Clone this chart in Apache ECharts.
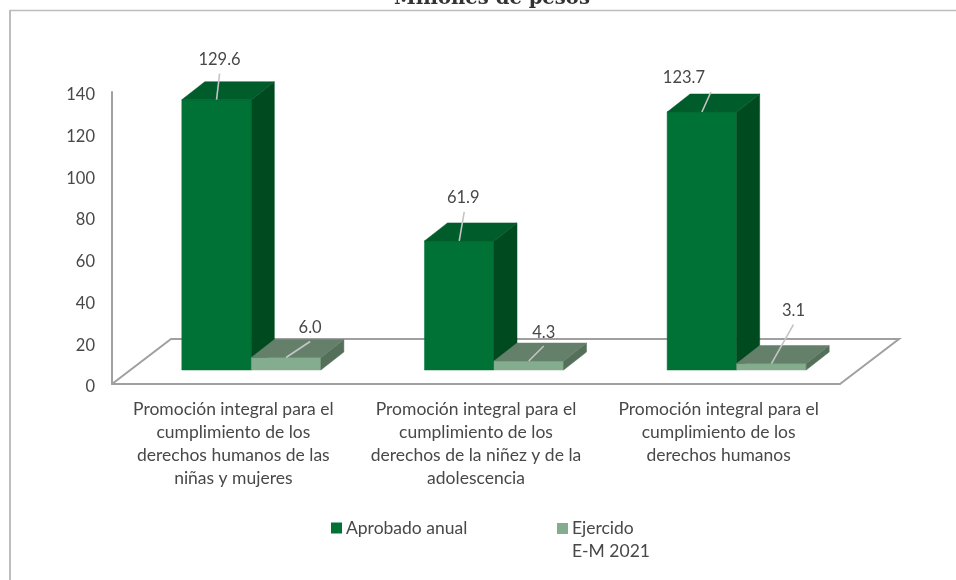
<!DOCTYPE html>
<html>
<head>
<meta charset="utf-8">
<style>html,body{margin:0;padding:0;background:#fff}#c{width:956px;height:580px}</style>
<script src="https://cdn.jsdelivr.net/npm/echarts@6/dist/echarts.min.js"></script>
</head>
<body>
<div id="c"></div>
<script>
const categories = [
  'Promoción integral para el\ncumplimiento de los\nderechos humanos de las\nniñas y mujeres',
  'Promoción integral para el\ncumplimiento de los\nderechos de la niñez y de la\nadolescencia',
  'Promoción integral para el\ncumplimiento de los\nderechos humanos'
];
const aprobado = [129.6, 61.9, 123.7];
const ejercido = [6.0, 4.3, 3.1];
const yTicks = [0, 20, 40, 60, 80, 100, 120, 140];
const titleText = 'Millones de pesos';
const nameAprobado = 'Aprobado anual';
const nameEjercido = 'Ejercido\nE-M 2021';

// Oblique projection of the 3D scene (pixels)
const BASE_X = 18, BASE_Y = -14;      // bars stand this far behind the front floor edge
const DEPTH_X = 23, DEPTH_Y = -18;    // depth of each bar
const FLOOR_X = 59, FLOOR_Y = -45;    // depth of the floor
const BAR_RATIO = 0.2865;
const FONT = 'Lato, "Open Sans", sans-serif';
const TXT = '#484848', LEADER = '#c4c4c4', AXIS = '#a0a0a0';

// Leader-line end and label centre, relative to the top-front middle of the bar
const styleA = {front:'#007236', side:'#004a20', top:'#005c2b',
  end:[[3,-26],[5,-29],[9,-20]], label:[[3,-40],[4,-43],[-18,-34]]};
const styleE = {front:'#84ac8e', side:'#55705a', top:'#64806a',
  end:[[24,-16],[15,-15],[22,-39]], label:[[24,-30],[15,-28],[22,-53]]};

function barItem(style, side) {
  return function (params, api) {
    const i = api.value(0);
    const val = api.value(1);
    const band = api.size([1, 0])[0];
    const w = band * BAR_RATIO;
    const c0 = api.coord([i, 0]);
    const c1 = api.coord([i, val]);
    const xL = c0[0] + BASE_X + (side === 0 ? -w : 0);
    const xR = xL + w;
    const yB = c0[1] + BASE_Y;
    const yT = c1[1] + BASE_Y;
    const poly = (pts, fill) => ({type:'polygon', shape:{points:pts}, style:{fill:fill, stroke:fill, lineWidth:0.5}});
    const mid = (xL + xR) / 2;
    const e = style.end[i], l = style.label[i];
    return {type:'group', children:[
      poly([[xL,yB],[xR,yB],[xR,yT],[xL,yT]], style.front),
      poly([[xR,yB],[xR+DEPTH_X,yB+DEPTH_Y],[xR+DEPTH_X,yT+DEPTH_Y],[xR,yT]], style.side),
      poly([[xL,yT],[xR,yT],[xR+DEPTH_X,yT+DEPTH_Y],[xL+DEPTH_X,yT+DEPTH_Y]], style.top),
      {type:'line', shape:{x1:mid,y1:yT,x2:mid+e[0],y2:yT+e[1]}, style:{stroke:LEADER,lineWidth:1.6}},
      {type:'text', style:{x:mid+l[0], y:yT+l[1], text:val.toFixed(1), fill:TXT, font:'16.5px '+FONT, align:'center', verticalAlign:'middle'}}
    ]};
  };
}

function floorItem(params) {
  const g = params.coordSys;
  const x0 = g.x, x1 = g.x + g.width, y = g.y + g.height;
  return {type:'polyline', shape:{points:[[x0,y],[x0+FLOOR_X,y+FLOOR_Y],[x1+FLOOR_X,y+FLOOR_Y],[x1,y]]},
    style:{stroke:AXIS, lineWidth:2, fill:null}, z2:0};
}

const chart = echarts.init(document.getElementById('c'), null, {renderer:'canvas'});
chart.setOption({
  animation:false,
  backgroundColor:'#fff',
  title:{text:titleText, left:487, textAlign:'center', top:-16,
    textStyle:{fontFamily:'"DejaVu Serif"', fontWeight:'bold', fontSize:19.6, color:'#333'}},
  grid:{left:112, right:116, top:92, bottom:196},
  xAxis:{type:'category', data:categories, axisTick:{show:false},
    axisLine:{show:true, lineStyle:{color:AXIS, width:2}},
    axisLabel:{interval:0, margin:14, lineHeight:23, fontSize:17.5, fontFamily:FONT, color:TXT, align:'center', verticalAlign:'top'}},
  yAxis:{type:'value', min:yTicks[0], max:yTicks[yTicks.length-1], interval:yTicks[1]-yTicks[0],
    splitLine:{show:false}, axisTick:{show:false},
    axisLine:{show:true, lineStyle:{color:AXIS, width:2}},
    axisLabel:{margin:17, formatter:'{t|{value}}',
      rich:{t:{fontSize:16.5, fontFamily:FONT, color:TXT, padding:[6,0,0,0]}}}},
  legend:[
    {data:[{name:nameAprobado, icon:'rect'}], left:331, top:519, itemWidth:11, itemHeight:11, itemGap:5, padding:0,
     textStyle:{fontSize:17.5, fontFamily:FONT, color:TXT, padding:[0,0,0,-1]}, selectedMode:false},
    {data:[{name:nameEjercido, icon:'path://M0 0H11V11H0Z M0 34H0.001V34.001H0Z'}], left:557, top:517, itemWidth:11, itemHeight:34, itemGap:5, padding:0,
     textStyle:{fontSize:17.5, fontFamily:FONT, color:TXT, lineHeight:23, padding:[0,0,0,-1]}, selectedMode:false}
  ],
  graphic:[
    {type:'line', shape:{x1:10,y1:10.5,x2:956,y2:10.5}, style:{stroke:'#bdbdbd',lineWidth:1.5}, silent:true},
    {type:'line', shape:{x1:10,y1:10,x2:10,y2:580}, style:{stroke:'#bdbdbd',lineWidth:2}, silent:true}
  ],
  series:[
    {type:'custom', name:'piso', coordinateSystem:'cartesian2d', renderItem:floorItem, data:[[0,0]], z:1, silent:true},
    {type:'custom', name:nameAprobado, coordinateSystem:'cartesian2d', renderItem:barItem(styleA,0),
     itemStyle:{color:styleA.front}, encode:{x:0,y:1}, data:aprobado.map((v,i)=>[i,v]), z:2},
    {type:'custom', name:nameEjercido, coordinateSystem:'cartesian2d', renderItem:barItem(styleE,1),
     itemStyle:{color:styleE.front}, encode:{x:0,y:1}, data:ejercido.map((v,i)=>[i,v]), z:3}
  ]
});
</script>
</body>
</html>
